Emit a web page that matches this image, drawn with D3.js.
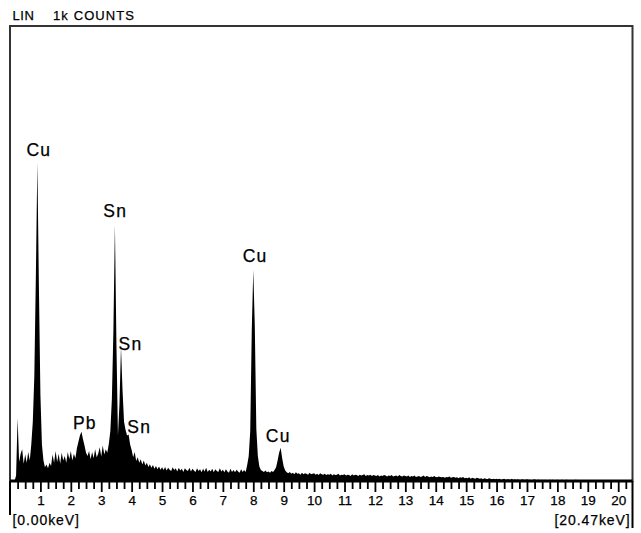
<!DOCTYPE html>
<html>
<head>
<meta charset="utf-8">
<script src="https://cdn.jsdelivr.net/npm/d3@7"></script>
<style>
  body { margin: 0; background: #fff; }
  text { font-family: "Liberation Sans", Arial, Helvetica, sans-serif; fill: #000; stroke: #000; stroke-width: 0.25px; }
</style>
</head>
<body>
<div id="spectrum"></div>
<script>
// EDS spectrum, one value per 0.05 keV channel starting at 0 keV
const channelWidth = 0.05;
const counts = [
  0, 0, 0, 0, 12, 138, 42, 60, 70, 38, 58, 40, 64, 45, 80, 130, 230, 450, 700, 430,
  190, 80, 45, 30, 36, 28, 40, 33, 58, 40, 66, 42, 60, 38, 62, 45, 55, 40, 64, 48,
  66, 45, 60, 50, 72, 86, 100, 108, 92, 78, 62, 55, 66, 48, 64, 50, 70, 52, 60, 74,
  54, 78, 58, 70, 62, 82, 110, 180, 330, 563, 300, 100, 170, 295, 200, 130, 112, 100, 102, 80,
  68, 52, 64, 44, 52, 40, 48, 36, 45, 34, 40, 31, 37, 29, 35, 27, 33, 26, 32, 25,
  30, 24, 31, 23, 29, 25, 22, 30, 24, 28, 21, 29, 23, 27, 20, 28, 24, 22, 29, 21,
  27, 23, 20, 28, 22, 26, 19, 27, 21, 29, 20, 25, 21, 27, 19, 26, 22, 20, 28, 21,
  25, 19, 26, 21, 18, 27, 20, 24, 19, 25, 21, 18, 26, 20, 24, 20, 35, 55, 110, 330,
  464, 340, 115, 55, 32, 24, 22, 20, 23, 19, 21, 18, 22, 20, 24, 30, 45, 62, 73, 50,
  32, 23, 19, 17, 20, 16, 18, 15, 19, 16, 17, 14, 18, 15, 17, 16, 14, 18, 15, 16,
  17, 14, 16, 13, 17, 15, 14, 16, 13, 15, 14, 16, 12, 15, 13, 14, 16, 12, 14, 13,
  15, 12, 14, 13, 11, 15, 12, 14, 13, 11, 14, 12, 13, 15, 11, 13, 12, 14, 11, 13,
  12, 11, 13, 10, 12, 11, 13, 12, 10, 12, 11, 13, 10, 11, 12, 10, 13, 11, 10, 12,
  11, 10, 12, 9, 11, 10, 12, 9, 10, 11, 9, 10, 12, 9, 11, 10, 8, 10, 9, 11,
  9, 8, 10, 9, 8, 9, 7, 9, 8, 10, 7, 8, 9, 7, 8, 6, 8, 7, 9, 6,
  7, 6, 8, 5, 7, 6, 5, 7, 6, 5, 6, 4, 6, 5, 4, 6, 5, 4, 5, 4,
  5, 4, 5, 3, 4, 5, 3, 4, 4, 3, 5, 3, 4, 3, 4, 3, 3, 4, 3, 3,
  4, 3, 3, 2, 3, 4, 2, 3, 3, 2, 3, 2, 3, 2, 2, 3, 2, 3, 2, 2,
  3, 2, 2, 3, 2, 2, 3, 2, 2, 1, 2, 2, 3, 2, 1, 2, 2, 1, 2, 2,
  2, 1, 2, 2, 1, 2, 1, 2, 1, 2, 1, 1, 2, 1, 2, 1, 1, 2, 1, 1,
  1, 1, 2, 1, 1, 1, 1, 2, 1, 1
];

// peak labels: element, energy of label centre (keV), count level of label baseline
const peakElements = ["Cu", "Sn", "Sn", "Pb", "Sn", "Cu", "Cu"];
const peakKeV      = [0.95, 3.46, 3.96, 2.46, 4.25, 8.06, 8.82];
const peakLevel    = [714, 580, 288, 114, 105, 481, 86];

const majorTicks = d3.range(1, 21);
const minorTicks = d3.range(0.25, 20.3, 0.25).filter(v => Math.abs(v - Math.round(v)) > 0.01);
const rangeStart = 0, rangeEnd = 20.47;

const width = 641, height = 533;

const svg = d3.select("#spectrum")
  .append("svg")
  .attr("width", width)
  .attr("height", height);

const x = d3.scaleLinear().domain([rangeStart, rangeEnd]).range([10, 632.5]);
const y = d3.scaleLinear().domain([0, 1000]).range([481, 26]);

const data = counts.map((c, i) => ({ keV: i * channelWidth, c: c }));

// spectrum fill
svg.append("path")
  .datum(data)
  .attr("fill", "#000")
  .attr("d", d3.area()
    .x(d => x(d.keV))
    .y0(y(0))
    .y1(d => y(d.c)));

// frame
svg.append("rect")
  .attr("x", x(rangeStart))
  .attr("y", y(1000))
  .attr("width", x(rangeEnd) - x(rangeStart))
  .attr("height", y(0) - y(1000))
  .attr("fill", "none")
  .attr("stroke", "#333")
  .attr("stroke-width", 2);

// minor ticks
const minorAxis = svg.append("g")
  .attr("transform", `translate(0,${y(0)})`)
  .call(d3.axisBottom(x).tickValues(minorTicks).tickSize(8).tickFormat(""));
minorAxis.select(".domain").remove();
minorAxis.selectAll("line").attr("stroke", "#000").attr("stroke-width", 1.8);

// major ticks with labels
const majorAxis = svg.append("g")
  .attr("transform", `translate(0,${y(0)})`)
  .call(d3.axisBottom(x).tickValues(majorTicks).tickSize(11).tickPadding(3).tickFormat(d3.format("d")));
majorAxis.select(".domain").remove();
majorAxis.selectAll("line").attr("stroke", "#000").attr("stroke-width", 1.8);
majorAxis.selectAll("text")
  .attr("font-family", "Liberation Sans, Arial, sans-serif")
  .attr("font-size", 13.5)
  .attr("fill", "#000");

// baseline
svg.append("line")
  .attr("x1", x(rangeStart)).attr("x2", x(rangeEnd))
  .attr("y1", y(0)).attr("y2", y(0))
  .attr("stroke", "#000").attr("stroke-width", 3);

// range end markers
svg.append("line")
  .attr("x1", x(rangeStart)).attr("x2", x(rangeStart))
  .attr("y1", y(0)).attr("y2", 515)
  .attr("stroke", "#000").attr("stroke-width", 2);
svg.append("line")
  .attr("x1", x(rangeEnd)).attr("x2", x(rangeEnd))
  .attr("y1", y(0)).attr("y2", 528)
  .attr("stroke", "#000").attr("stroke-width", 2);

svg.append("text")
  .attr("x", x(rangeStart) + 2.5).attr("y", 525)
  .attr("font-size", 14).attr("letter-spacing", 0.9)
  .text("[" + rangeStart.toFixed(2) + "keV]");
svg.append("text")
  .attr("x", x(rangeEnd) - 2).attr("y", 525)
  .attr("text-anchor", "end")
  .attr("font-size", 14).attr("letter-spacing", 0.9)
  .text("[" + rangeEnd.toFixed(2) + "keV]");

// header
svg.append("text")
  .attr("x", 12.5).attr("y", 20)
  .attr("font-size", 13).attr("letter-spacing", 0.6)
  .text("LIN");
svg.append("text")
  .attr("x", 53).attr("y", 20)
  .attr("font-size", 13).attr("letter-spacing", 1.1)
  .text("1k COUNTS");

// peak labels
svg.selectAll(".peak")
  .data(peakElements)
  .join("text")
  .attr("class", "peak")
  .attr("x", (d, i) => x(peakKeV[i]))
  .attr("y", (d, i) => y(peakLevel[i]))
  .attr("text-anchor", "middle")
  .attr("font-size", 17.5)
  .attr("letter-spacing", 1.2)
  .text(d => d);
</script>
</body>
</html>
